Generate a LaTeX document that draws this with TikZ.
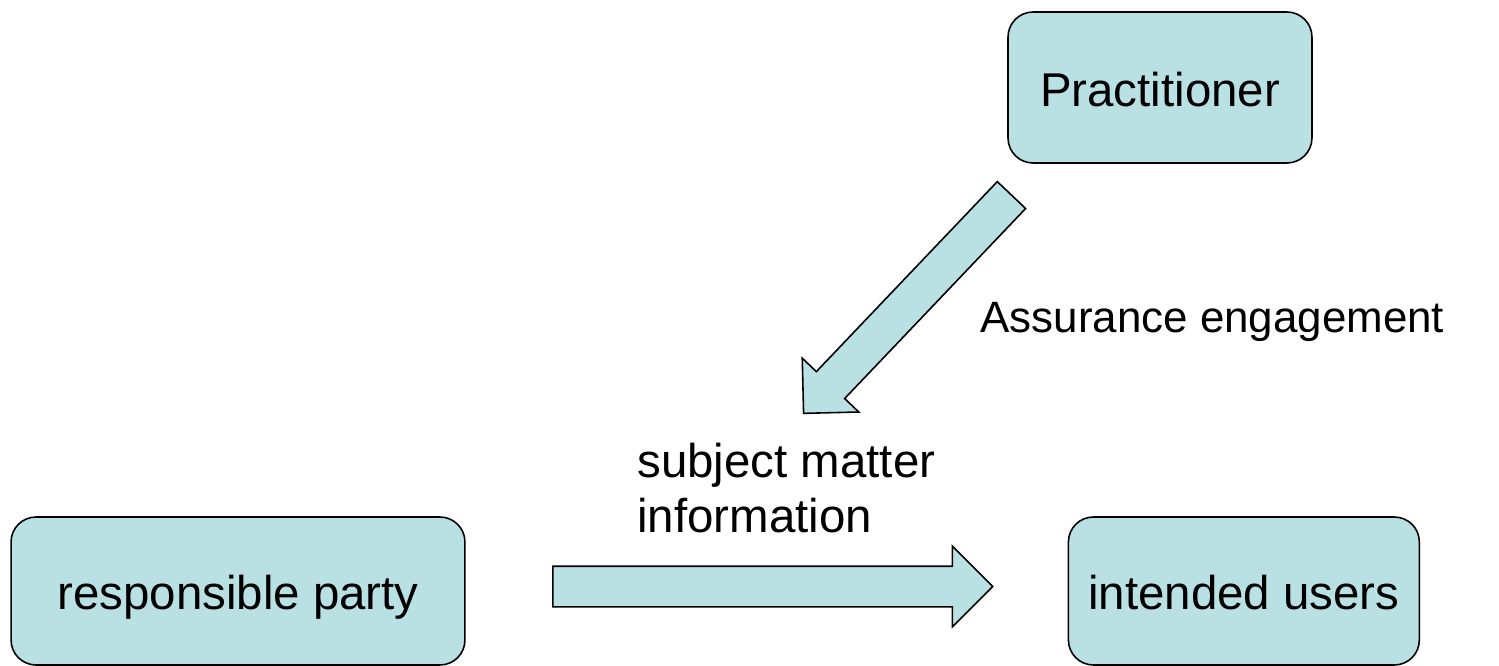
\documentclass[tikz,border=0pt]{standalone}
\usepackage{fontspec}
\setmainfont{Liberation Sans}
\usetikzlibrary{shapes.arrows,positioning}
\definecolor{boxfill}{RGB}{185,224,227}

\begin{document}
\begin{tikzpicture}[x=0.02cm, y=-0.02cm,
	party/.style={draw, fill=boxfill, line width=0.9pt, rounded corners=0.5cm, inner sep=0pt,
		font=\fontsize{27}{31}\selectfont, text height=21.6pt, text depth=0pt},
	flow/.style={single arrow, draw, fill=boxfill, line width=0.9pt, inner xsep=0pt,
		single arrow tip angle=90, anchor=tail},
	caption/.style={anchor=base west, inner sep=0pt, align=left}]
	\useasboundingbox (0,0) rectangle (1499,666);
	
	\node[party, minimum width=6.08cm, minimum height=3.02cm] (prac) at (1160,87.5) {Practitioner};
	\node[party, minimum width=9.08cm, minimum height=2.96cm] (resp) at (238,591) {responsible party};
	\node[party, minimum width=7.02cm, minimum height=2.96cm, right=12.04cm of resp] (users) {intended users};
	
	\node[flow, minimum height=8.8cm, inner ysep=0.39cm, single arrow head extend=0.4cm] (info) at (552,586.5) {};
	\node[flow, minimum height=6.03cm, inner ysep=0.375cm, single arrow head extend=0.39cm, rotate=226.4] (engage) at (1012,194.5) {};
	
	\node[caption, font=\fontsize{25}{30}\selectfont] (engagetext) at (980,332) {Assurance engagement};
	\node[caption, font=\fontsize{27}{31.3}\selectfont] (infotext) at (637,532) {subject matter\\information};
\end{tikzpicture}
\end{document}
